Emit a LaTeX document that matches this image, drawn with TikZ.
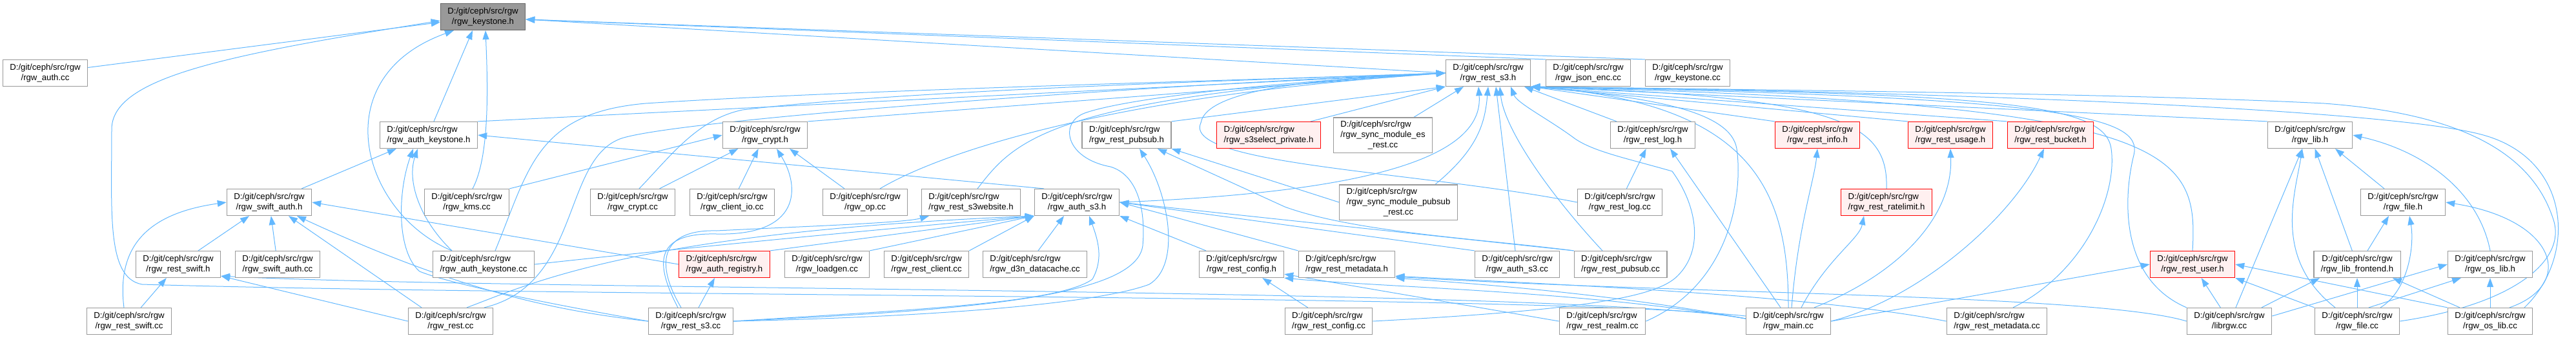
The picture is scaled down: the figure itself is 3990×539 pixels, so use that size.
\documentclass[tikz,border=0pt]{standalone}
\usepackage{fontspec}
\setmainfont{Liberation Sans}
\usepackage{tikz}
\usetikzlibrary{arrows.meta}
\definecolor{edgeblue}{HTML}{63B8FF}
\definecolor{boxgray}{HTML}{999999}
\definecolor{rootgray}{HTML}{666666}
\definecolor{redfill}{HTML}{FFF0F0}
\newcommand{\rgwdir}{D:/git/ceph/src/rgw}
\pgfdeclarelayer{background}
\pgfsetlayers{background,main}

\begin{document}
\begin{tikzpicture}[x=1pt, y=-1pt,
    every node/.style={font=\fontsize{13.2}{16}\selectfont},
    file/.style={draw=boxgray, line width=1.2pt, fill=white, minimum width=131pt, minimum height=41pt, inner xsep=11pt, inner ysep=5pt, align=center},
    redfile/.style={file, draw=red, fill=redfill},
    rootfile/.style={file, draw=rootgray, fill=boxgray},
    arr/.style={-{Triangle[length=14pt,width=10pt]}, edgeblue, line width=1pt}
]
    \useasboundingbox (0,0) rectangle (3990,539);

    \node[rootfile] (ks) at (748,26) {\rgwdir\\/rgw\_keystone.h};

    \node[file] (authcc) at (70,113) {\rgwdir\\/rgw\_auth.cc};
    \node[file] (r3h) at (2305,113) {\rgwdir\\/rgw\_rest\_s3.h};
    \node[file] (jsonenc) at (2460,113) {\rgwdir\\/rgw\_json\_enc.cc};
    \node[file] (kscc) at (2614,113) {\rgwdir\\/rgw\_keystone.cc};

    \node[file, align=left] (akh) at (664,209) {\rgwdir\\/rgw\_auth\_keystone.h};
    \node[file] (ch) at (1185,209) {\rgwdir\\/rgw\_crypt.h};
    \node[file, align=left] (rph) at (1745,209) {\rgwdir\\/rgw\_rest\_pubsub.h};
    \node[redfile, align=left] (s3sel) at (1965,209) {\rgwdir\\/rgw\_s3select\_private.h};
    \node[file] (esrest) at (2142,209) {\rlap{\rgwdir}\phantom{/rgw\_sync\_module\_es}\\/rgw\_sync\_module\_es\\\_rest.cc};
    \node[file] (rlh) at (2560,209) {\rgwdir\\/rgw\_rest\_log.h};
    \node[redfile] (rinfo) at (2815,209) {\rgwdir\\/rgw\_rest\_info.h};
    \node[redfile] (rusage) at (3021,209) {\rgwdir\\/rgw\_rest\_usage.h};
    \node[redfile, align=left] (rbucket) at (3176,209) {\rgwdir\\/rgw\_rest\_bucket.h};
    \node[file] (lib) at (3578,209) {\rgwdir\\/rgw\_lib.h};

    \node[file] (sah) at (417,313) {\rgwdir\\/rgw\_swift\_auth.h};
    \node[file] (kms) at (723,313) {\rgwdir\\/rgw\_kms.cc};
    \node[file] (cryptcc) at (980,313) {\rgwdir\\/rgw\_crypt.cc};
    \node[file] (clientio) at (1134,313) {\rgwdir\\/rgw\_client\_io.cc};
    \node[file] (opcc) at (1340,313) {\rgwdir\\/rgw\_op.cc};
    \node[file, align=left] (s3web) at (1504,313) {\rgwdir\\/rgw\_rest\_s3website.h};
    \node[file] (as3) at (1668,313) {\rgwdir\\/rgw\_auth\_s3.h};
    \node[file] (psrest) at (2166,313) {\rlap{\rgwdir}\phantom{/rgw\_sync\_module\_pubsub}\\/rgw\_sync\_module\_pubsub\\\_rest.cc};
    \node[file] (rlcc) at (2509,313) {\rgwdir\\/rgw\_rest\_log.cc};
    \node[redfile, align=left] (rrl) at (2922,313) {\rgwdir\\/rgw\_rest\_ratelimit.h};
    \node[file] (fileh) at (3722,313) {\rgwdir\\/rgw\_file.h};

    \node[file] (rswh) at (276,409) {\rgwdir\\/rgw\_rest\_swift.h};
    \node[file] (sacc) at (430,409) {\rgwdir\\/rgw\_swift\_auth.cc};
    \node[file, align=left] (akcc) at (749,409) {\rgwdir\\/rgw\_auth\_keystone.cc};
    \node[redfile, align=left] (authreg) at (1122,409) {\rgwdir\\/rgw\_auth\_registry.h};
    \node[file] (loadgen) at (1281,409) {\rgwdir\\/rgw\_loadgen.cc};
    \node[file] (rclient) at (1435,409) {\rgwdir\\/rgw\_rest\_client.cc};
    \node[file, align=left] (d3n) at (1603,409) {\rgwdir\\/rgw\_d3n\_datacache.cc};
    \node[file] (rcfgh) at (1923,409) {\rgwdir\\/rgw\_rest\_config.h};
    \node[file, align=left] (rmdh) at (2086,409) {\rgwdir\\/rgw\_rest\_metadata.h};
    \node[file] (as3cc) at (2350,409) {\rgwdir\\/rgw\_auth\_s3.cc};
    \node[file, align=left] (rpscc) at (2510,409) {\rgwdir\\/rgw\_rest\_pubsub.cc};
    \node[redfile] (ruser) at (3396,409) {\rgwdir\\/rgw\_rest\_user.h};
    \node[file] (libfe) at (3651,409) {\rgwdir\\/rgw\_lib\_frontend.h};
    \node[file] (oslibh) at (3857,409) {\rgwdir\\/rgw\_os\_lib.h};

    \node[file] (rswcc) at (200,497) {\rgwdir\\/rgw\_rest\_swift.cc};
    \node[file] (restcc) at (698,497) {\rgwdir\\/rgw\_rest.cc};
    \node[file] (rests3cc) at (1070,497) {\rgwdir\\/rgw\_rest\_s3.cc};
    \node[file, align=left] (rcfgcc) at (2058,497) {\rgwdir\\/rgw\_rest\_config.cc};
    \node[file, align=left] (rrealm) at (2482,497) {\rgwdir\\/rgw\_rest\_realm.cc};
    \node[file] (main) at (2770,497) {\rgwdir\\/rgw\_main.cc};
    \node[file, align=left] (rmdcc) at (3093,497) {\rgwdir\\/rgw\_rest\_metadata.cc};
    \node[file] (librgw) at (3453,497) {\rgwdir\\/librgw.cc};
    \node[file] (filecc) at (3651,497) {\rgwdir\\/rgw\_file.cc};
    \node[file] (oslibcc) at (3857,497) {\rgwdir\\/rgw\_os\_lib.cc};

    \begin{pgfonlayer}{background}
    % rgw_keystone.h
    \draw[arr] (authcc) -- (ks);
    \draw[arr] (r3h.west) -- ([yshift=-4pt]ks.east);
    \draw[arr] (jsonenc.north west) -- ([yshift=-4pt]ks.east);
    \draw[arr] (kscc.north west) -- ([yshift=-4pt]ks.east);
    \draw[arr] ([xshift=8pt]akh.north) -- ([xshift=-16pt]ks.south);
    \draw[arr] ([xshift=9pt]kms.north) .. controls (760,240) and (755,120) .. ([xshift=4pt]ks.south);
    \draw[arr] ([xshift=-49pt]akcc.north) .. controls (560,330) and (500,120) .. ([xshift=-45pt]ks.south);
    \draw[arr] ([yshift=8pt]main.west) .. controls (2400,455) and (900,460) .. (220,440)
        .. controls (165,430) and (173,330) .. (173,200) .. controls (173,120) and (350,85) .. ([yshift=-6pt]ks.west);

    % rgw_auth_keystone.h
    \draw[arr] (sah) -- (akh);
    \draw[arr] ([xshift=-51pt]as3.north) -- (akh.east);
    \draw[arr] ([xshift=-49pt]akcc.north) .. controls (650,340) and (630,280) .. ([xshift=-17pt]akh.south);
    \draw[arr] (rests3cc.west) .. controls (850,470) and (700,440) .. (650,420)
        .. controls (615,390) and (615,300) .. ([xshift=-24pt]akh.south);

    % rgw_swift_auth.h and rgw_rest_swift.h
    \draw[arr] ([xshift=-8pt]rswcc.north) .. controls (180,380) and (230,330) .. (sah.west);
    \draw[arr] (rswh) -- (sah);
    \draw[arr] (sacc) -- (sah);
    \draw[arr] (authreg.west) -- (sah.east);
    \draw[arr] ([xshift=-45pt]restcc.north) -- ([xshift=30pt]sah.south);
    \draw[arr] (rests3cc.west) .. controls (850,480) and (700,445) .. ([xshift=43pt]sah.south);
    \draw[arr] (rswcc) -- (rswh);
    \draw[arr] (restcc.west) -- ([yshift=3pt]rswh.south east);
    \draw[arr] ([yshift=4pt]main.west) .. controls (2450,445) and (800,450) .. ([yshift=3pt]rswh.south east);

    % rgw_crypt.h, rgw_rest_s3website.h, rgw_auth_registry.h
    \draw[arr] (kms.north east) -- (ch.west);
    \draw[arr] (cryptcc) -- (ch);
    \draw[arr] (clientio) -- (ch);
    \draw[arr] ([xshift=-20pt]rests3cc.north) .. controls (1010,400) and (1020,360) .. (1110,362)
        .. controls (1240,365) and (1240,290) .. ([xshift=18pt]ch.south);
    \draw[arr] ([xshift=-32pt]opcc.north) -- ([xshift=38pt]ch.south);
    \draw[arr] ([xshift=-15pt]rests3cc.north) .. controls (1010,400) and (1030,355) .. (1110,357)
        .. controls (1250,350) and (1400,345) .. ([xshift=-65pt]s3web.south);
    \draw[arr] ([xshift=12pt]rests3cc.north) -- ([xshift=-15pt]authreg.south);

    % rgw_rest_s3.h
    \draw[arr] (akh.north east) -- (r3h.west);
    \draw[arr] (ch.north east) -- (r3h.west);
    \draw[arr] ([xshift=23pt]opcc.north) .. controls (1450,240) and (1700,150) .. (r3h.west);
    \draw[arr] ([xshift=10pt]s3web.north) .. controls (1570,220) and (1620,150) .. (r3h.west);
    \draw[arr] (rph.north east) -- (r3h.south west);
    \draw[arr] ([xshift=65pt]s3sel.north) -- (r3h.south west);
    \draw[arr] ([xshift=48pt]esrest.north) -- ([xshift=-38pt]r3h.south);
    \draw[arr] (as3.east) .. controls (2050,300) and (2300,260) .. ([xshift=-15pt]r3h.south);
    \draw[arr] ([xshift=57pt]psrest.north) .. controls (2290,230) and (2300,190) .. (r3h.south);
    \draw[arr] ([xshift=-3pt]as3cc.north) -- ([xshift=12pt]r3h.south);
    \draw[arr] ([xshift=-28pt]rpscc.north) .. controls (2400,300) and (2330,200) .. ([xshift=18pt]r3h.south);
    \draw[arr] (rlh) -- (r3h);
    \draw[arr] (rlcc.west) .. controls (2200,265) and (1830,255) .. (1860,190)
        .. controls (1870,130) and (2100,120) .. (r3h.west);
    \draw[arr] (rinfo.north west) -- (r3h.south east);
    \draw[arr] (rusage.north west) -- (r3h.south east);
    \draw[arr] (rbucket.north west) -- (r3h.south east);
    \draw[arr] (lib.north west) -- (r3h.south east);
    \draw[arr] (rrl.north) .. controls (2925,190) and (2850,150) .. (r3h.south east);
    \draw[arr] (ruser.north) .. controls (3405,230) and (3370,160) .. (r3h.south east);
    \draw[arr] (librgw.north west) .. controls (3280,430) and (3290,300) .. (3305,240)
        .. controls (3320,180) and (3200,150) .. (r3h.south east);
    \draw[arr] ([xshift=25pt]rmdcc.north) .. controls (3230,420) and (3280,300) .. (3270,230)
        .. controls (3260,160) and (3100,145) .. (r3h.south east);
    \draw[arr] (main.north) .. controls (2770,300) and (2720,160) .. (r3h.south east);
    \draw[arr] (filecc.east) .. controls (3900,470) and (3975,400) .. (3955,340)
        .. controls (3920,230) and (3800,175) .. (3600,160) .. controls (3300,145) and (2800,140) .. (r3h.south east);
    \draw[arr] ([xshift=53pt]oslibcc.north) .. controls (3990,400) and (3985,250) .. (3850,210)
        .. controls (3700,165) and (2900,140) .. (r3h.south east);
    \draw[arr] (rests3cc.east) .. controls (1500,480) and (1760,460) .. (1770,380)
        .. controls (1775,320) and (1760,270) .. (1720,258) .. controls (1650,245) and (1640,190) .. (1680,175)
        .. controls (1750,150) and (2000,125) .. (r3h.west);
    \draw[arr] (rcfgcc.east) .. controls (2450,480) and (2560,460) .. (2595,430)
        .. controls (2640,390) and (2630,320) .. (2590,265) .. controls (2520,245) and (2470,235) .. (2440,215)
        .. controls (2400,185) and (2350,160) .. ([xshift=35pt]r3h.south);
    \draw[arr] ([xshift=52pt]restcc.north) .. controls (900,440) and (870,250) .. (960,215)
        .. controls (1040,185) and (1800,130) .. (r3h.west);
    \draw[arr] ([xshift=18pt]akcc.north) .. controls (820,260) and (830,175) .. (1000,160)
        .. controls (1300,140) and (1900,125) .. (r3h.west);
    \draw[arr] ([xshift=10pt]cryptcc.north) .. controls (1040,240) and (1080,185) .. (1150,170)
        .. controls (1400,140) and (1900,125) .. (r3h.west);
    \draw[arr] (rrealm.east) .. controls (2680,440) and (2700,300) .. (2690,230)
        .. controls (2680,170) and (2550,150) .. (r3h.south east);

    % rgw_auth_s3.h
    \draw[arr] (loadgen.north east) -- (as3.south west);
    \draw[arr] (rclient.north east) -- (as3.south west);
    \draw[arr] (authreg.north east) -- (as3.south west);
    \draw[arr] (akcc.east) .. controls (1000,390) and (1300,360) .. (as3.south west);
    \draw[arr] ([xshift=25pt]restcc.north) .. controls (820,440) and (980,360) .. (as3.south west);
    \draw[arr] (rests3cc.east) .. controls (1400,480) and (1640,470) .. (1692,432)
        .. controls (1710,400) and (1700,370) .. ([xshift=19pt]as3.south);
    \draw[arr] ([xshift=5pt]d3n.north) -- ([xshift=-20pt]as3.south);
    \draw[arr] ([xshift=-55pt]rcfgh.north) -- (as3.south east);
    \draw[arr] (as3cc.north west) -- (as3.east);
    \draw[arr] (rpscc.north west) -- (as3.east);
    \draw[arr] (rmdh.north west) -- (as3.east);

    % rgw_rest_pubsub.h
    \draw[arr] (rests3cc.east) .. controls (1450,490) and (1700,470) .. (1780,440)
        .. controls (1830,410) and (1810,300) .. ([xshift=20pt]rph.south);
    \draw[arr] (rpscc.north west) .. controls (2300,370) and (2100,360) .. (1990,320) -- ([xshift=48pt]rph.south);
    \draw[arr] (psrest.west) -- (rph.south east);

    % rgw_rest_log.h and the red headers
    \draw[arr] (rlcc) -- (rlh);
    \draw[arr] ([xshift=-12pt]main.north) -- ([xshift=27pt]rlh.south);
    \draw[arr] ([xshift=5pt]main.north) .. controls (2785,350) and (2810,280) .. (rinfo.south);
    \draw[arr] ([xshift=20pt]main.north) .. controls (2830,400) and (2880,370) .. ([xshift=-35pt]rrl.south);
    \draw[arr] ([xshift=40pt]main.north) .. controls (2950,420) and (3025,330) .. (rusage.south);
    \draw[arr] (main.east) .. controls (2980,460) and (3120,330) .. ([xshift=-10pt]rbucket.south);
    \draw[arr] (main.east) -- (ruser.west);
    \draw[arr] (librgw) -- (ruser);
    \draw[arr] (filecc.north west) -- (ruser.south east);
    \draw[arr] (oslibcc.north west) -- (ruser.east);

    % rgw_rest_config.h and rgw_rest_metadata.h
    \draw[arr] (rcfgcc) -- (rcfgh);
    \draw[arr] ([yshift=4pt]main.west) .. controls (2450,450) and (2150,445) .. (rcfgh.south east);
    \draw[arr] (rrealm.west) -- ([yshift=6pt]rcfgh.south east);
    \draw[arr] (rmdcc.west) .. controls (2800,455) and (2400,440) .. ([yshift=3pt]rmdh.south east);
    \draw[arr] ([yshift=4pt]main.west) .. controls (2500,455) and (2300,440) .. (rmdh.south east);
    \draw[arr] (librgw.west) .. controls (3250,455) and (2600,455) .. ([yshift=2pt]rmdh.south east);

    % rgw_lib.h, rgw_file.h, rgw_lib_frontend.h, rgw_os_lib.h
    \draw[arr] ([xshift=10pt]librgw.north) -- ([xshift=-12pt]lib.south);
    \draw[arr] ([xshift=-34pt]filecc.north) .. controls (3520,400) and (3555,300) .. ([xshift=-12pt]lib.south);
    \draw[arr] (libfe) -- (lib);
    \draw[arr] ([xshift=-29pt]fileh.north) -- ([xshift=39pt]lib.south);
    \draw[arr] (oslibh.north) .. controls (3840,300) and (3760,235) .. (lib.east);
    \draw[arr] ([xshift=16pt]libfe.north) -- ([xshift=-22pt]fileh.south);
    \draw[arr] ([xshift=36pt]filecc.north) .. controls (3730,450) and (3740,380) .. ([xshift=10pt]fileh.south);
    \draw[arr] ([xshift=30pt]oslibcc.north) .. controls (3990,440) and (3960,340) .. (fileh.east);
    \draw[arr] (filecc) -- (libfe);
    \draw[arr] ([xshift=-47pt]oslibcc.north) -- ([xshift=55pt]libfe.south);
    \draw[arr] ([xshift=50pt]librgw.north) -- ([xshift=-58pt]libfe.south);
    \draw[arr] ([yshift=8pt]librgw.east) -- (oslibh.west);
    \draw[arr] ([xshift=18pt]filecc.north) -- ([xshift=-45pt]oslibh.south);
    \draw[arr] (oslibcc) -- (oslibh);
    \end{pgfonlayer}
\end{tikzpicture}
\end{document}
